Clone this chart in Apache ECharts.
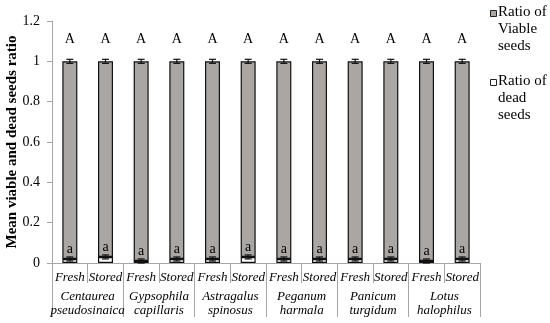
<!DOCTYPE html>
<html>
<head>
<meta charset="utf-8">
<script src="https://cdn.jsdelivr.net/npm/echarts@6/dist/echarts.min.js"></script>
<style>html,body{margin:0;padding:0;background:#fff;}#c{width:550px;height:323px;}</style>
</head>
<body>
<div id="c"></div>
<script>
var categories = ['Fresh','Stored','Fresh','Stored','Fresh','Stored','Fresh','Stored','Fresh','Stored','Fresh','Stored'];
var groups = ['Centaurea\npseudosinaica','Gypsophila\ncapillaris','Astragalus\nspinosus','Peganum\nharmala','Panicum\nturgidum','Lotus\nhalophilus'];
var deadRatio = [0.02,0.03,0.01,0.02,0.02,0.03,0.02,0.02,0.02,0.02,0.01,0.02];
var viableRatio = [0.98,0.97,0.99,0.98,0.98,0.97,0.98,0.98,0.98,0.98,0.99,0.98];
var viableErr = [0.01,0.01,0.01,0.01,0.01,0.01,0.01,0.01,0.01,0.01,0.01,0.01];
var deadErr = [0.01,0.01,0.01,0.01,0.01,0.01,0.01,0.01,0.01,0.01,0.01,0.01];
var viableLetters = ['A','A','A','A','A','A','A','A','A','A','A','A'];
var deadLetters = ['a','a','a','a','a','a','a','a','a','a','a','a'];
var yTicks = {min:0, max:1.2, interval:0.2};

var FONT = '"Liberation Serif","Times New Roman",serif';
var GRAY = '#aaa6a4';
var AXIS = '#a6a6a6';

var errData = [];
for (var i = 0; i < categories.length; i++) {
  errData.push([i, deadRatio[i] + viableRatio[i], viableErr[i]]);
  errData.push([i, deadRatio[i], deadErr[i]]);
}

function renderErr(params, api) {
  var x = api.value(0), y = api.value(1), e = api.value(2);
  var hi = api.coord([x, y + e]);
  var lo = api.coord([x, y - e]);
  var cap = 3.5;
  var st = {stroke:'#111', lineWidth:1.2};
  return {type:'group', children:[
    {type:'line', shape:{x1:hi[0], y1:hi[1], x2:lo[0], y2:lo[1]}, style:st},
    {type:'line', shape:{x1:hi[0]-cap, y1:hi[1], x2:hi[0]+cap, y2:hi[1]}, style:st},
    {type:'line', shape:{x1:lo[0]-cap, y1:lo[1], x2:lo[0]+cap, y2:lo[1]}, style:st}
  ]};
}

var chart = echarts.init(document.getElementById('c'), null, {renderer:'canvas'});
chart.setOption({
  animation:false,
  backgroundColor:'#fff',
  grid:{left:52, right:70, top:21, bottom:60, containLabel:false, outerBoundsMode:'none'},
  xAxis:[{
    type:'category', data:categories, position:'bottom',
    axisLine:{show:true, lineStyle:{color:AXIS, width:1}},
    axisTick:{show:true, interval:0, length:20, lineStyle:{color:AXIS}},
    axisLabel:{interval:0, margin:8, fontFamily:FONT, fontStyle:'italic', fontSize:13, color:'#000'}
  },{
    type:'category', data:groups, position:'bottom',
    axisLine:{show:true, lineStyle:{color:AXIS, width:1}},
    axisTick:{show:true, interval:0, length:54, lineStyle:{color:AXIS}},
    axisLabel:{interval:0, margin:27, fontFamily:FONT, fontStyle:'italic', fontSize:13, lineHeight:14, color:'#000'}
  }],
  yAxis:{
    type:'value', min:yTicks.min, max:yTicks.max, interval:yTicks.interval,
    name:'Mean viable and dead seeds ratio', nameLocation:'middle', nameGap:32, nameRotate:90,
    nameMoveOverlap:false,
    nameTextStyle:{fontFamily:FONT, fontWeight:'bold', fontSize:15, color:'#000'},
    axisLine:{show:true, lineStyle:{color:AXIS}},
    axisTick:{show:true, length:5, lineStyle:{color:AXIS}},
    splitLine:{show:false},
    axisLabel:{margin:12, fontFamily:FONT, fontSize:14, color:'#000',
      formatter:function(v){return String(Math.round(v*10)/10);}}
  },
  series:[{
    name:'Ratio of dead seeds', type:'bar', stack:'s', barWidth:15, xAxisIndex:0,
    data:deadRatio,
    itemStyle:{color:'#fff', borderColor:'#111', borderWidth:1.2},
    label:{show:true, position:'top', distance:3, formatter:function(p){return deadLetters[p.dataIndex];},
      fontFamily:FONT, fontSize:14, color:'#000'}
  },{
    name:'Ratio of Viable seeds', type:'bar', stack:'s', barWidth:15, xAxisIndex:0,
    data:viableRatio,
    itemStyle:{color:GRAY, borderColor:'#111', borderWidth:1.2},
    label:{show:true, position:'top', distance:15, formatter:function(p){return viableLetters[p.dataIndex];},
      fontFamily:FONT, fontSize:14, color:'#000'}
  },{
    type:'custom', xAxisIndex:0, data:errData, renderItem:renderErr, z:5, silent:true
  }],
  graphic:[
    {type:'rect', left:490, top:10, shape:{width:6, height:6}, style:{fill:GRAY, stroke:'#222', lineWidth:1}},
    {type:'text', left:498, top:4, style:{text:'Ratio of\nViable\nseeds', fontFamily:FONT, fontSize:15, lineHeight:17, fill:'#000'}},
    {type:'rect', left:490, top:79, shape:{width:6, height:6}, style:{fill:'#fff', stroke:'#222', lineWidth:1}},
    {type:'text', left:498, top:73, style:{text:'Ratio of\ndead\nseeds', fontFamily:FONT, fontSize:15, lineHeight:17, fill:'#000'}}
  ]
});
</script>
</body>
</html>
